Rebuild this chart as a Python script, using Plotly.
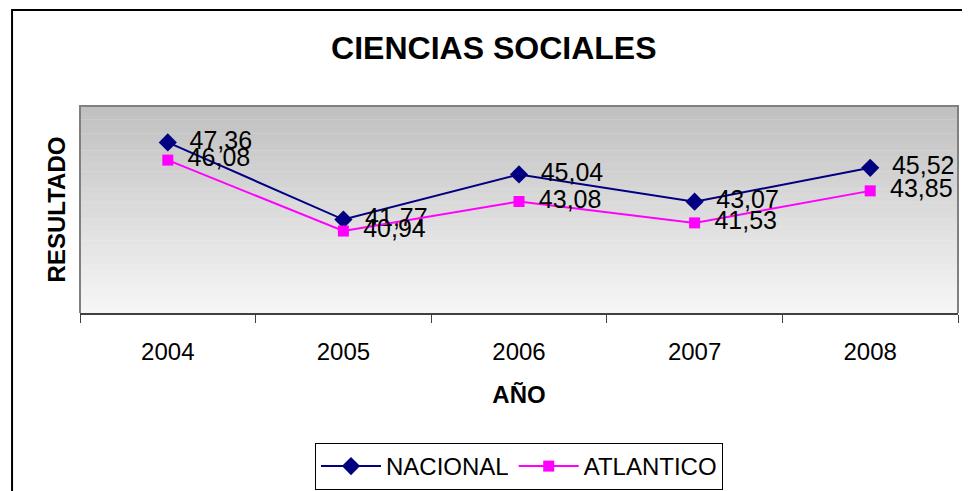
import plotly.graph_objects as go

# Data
years = ["2004", "2005", "2006", "2007", "2008"]
nacional = [47.36, 41.77, 45.04, 43.07, 45.52]
atlantico = [46.08, 40.94, 43.08, 41.53, 43.85]

FONT = "Arial, 'Liberation Sans', sans-serif"
LABEL = "\u00a0\u2009%{y:.2f}"  # small gap between marker and value

fig = go.Figure()

fig.add_trace(go.Scatter(
    x=years, y=nacional, name="NACIONAL",
    mode="lines+markers+text",
    line=dict(color="#000080", width=2),
    marker=dict(symbol="diamond", size=14, color="#000080"),
    texttemplate=LABEL, textposition="middle right",
    textfont=dict(size=25, color="#000000", family=FONT),
))
fig.add_trace(go.Scatter(
    x=years, y=atlantico, name="ATLANTICO",
    mode="lines+markers+text",
    line=dict(color="#FF00FF", width=2),
    marker=dict(symbol="square", size=11, color="#FF00FF"),
    texttemplate=LABEL, textposition="middle right",
    textfont=dict(size=25, color="#000000", family=FONT),
))

# gradient plot background (gray at top -> near white at bottom)
shapes = []
n = 60
top_c, bot_c = (192, 192, 192), (246, 246, 246)
for i in range(n):
    t = i / (n - 1)
    c = tuple(round(bot_c[k] + (top_c[k] - bot_c[k]) * t) for k in range(3))
    shapes.append(dict(type="rect", xref="paper", yref="paper",
                       x0=0, x1=1, y0=i / n, y1=(i + 1) / n + 0.002,
                       fillcolor="rgb(%d,%d,%d)" % c, line=dict(width=0),
                       layer="below"))
# gray border left / top / right
shapes.append(dict(type="path", xref="paper", yref="paper",
                   path="M 0,0 L 0,1 L 1,1 L 1,0",
                   line=dict(color="#808080", width=2), layer="above"))
# outer chart frame (left + top)
shapes.append(dict(type="path", xref="paper", yref="paper",
                   path="M -0.0774,-1.0 L -0.0774,1.4638 L 1.05,1.4638",
                   line=dict(color="#000000", width=2), layer="above"))

# page body has an 8px margin, so the figure is sized to end at the window edge
fig.update_layout(
    width=962, height=483,
    margin=dict(l=72, r=12, t=98, b=178, autoexpand=False),
    paper_bgcolor="white",
    plot_bgcolor="rgba(0,0,0,0)",
    separators=",.",
    font=dict(family=FONT, size=25, color="#000000"),
    title=dict(text="<b>CIENCIAS SOCIALES</b>", x=0.505, xanchor="center",
               y=0.918, yanchor="middle", font=dict(size=32)),
    shapes=shapes,
    showlegend=True,
    legend=dict(orientation="h", x=0.5, xanchor="center", y=-0.628, yanchor="top",
                bordercolor="#000000", borderwidth=1, bgcolor="white",
                font=dict(size=24), itemwidth=60, tracegroupgap=0),
    xaxis=dict(type="category", range=[-0.5, 4.5], showgrid=False,
               showline=True, linecolor="#404040", linewidth=2,
               ticks="outside", tickson="boundaries", ticklen=8,
               tickcolor="#404040", tickwidth=1, ticklabelstandoff=16,
               tickfont=dict(size=24),
               title=dict(text="<b>AÑO</b>", font=dict(size=24), standoff=22)),
    yaxis=dict(range=[35, 50], showgrid=False, zeroline=False,
               showticklabels=False, ticks="",
               title=dict(text="<b>RESULTADO</b>", font=dict(size=24), standoff=6)),
)

fig.write_html("out.html")
